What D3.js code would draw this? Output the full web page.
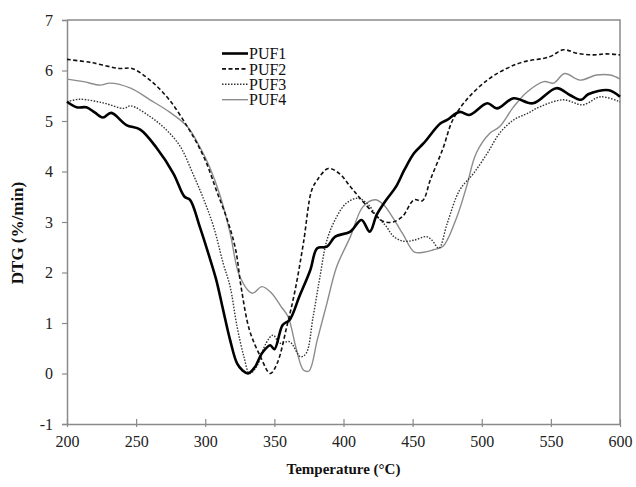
<!DOCTYPE html>
<html>
<head>
<meta charset="utf-8">
<script src="https://cdn.jsdelivr.net/npm/d3@7"></script>
<style>
  html, body { margin: 0; padding: 0; background: #fff; }
  svg { display: block; }
  svg text { font-family: "Liberation Serif", "Times New Roman", serif; }
</style>
</head>
<body>
<svg id="chart" width="636" height="487"></svg>
<script>
// ---------- data ----------
const seriesNames = ["PUF1", "PUF2", "PUF3", "PUF4"];
const xTicks = [200, 250, 300, 350, 400, 450, 500, 550, 600];
const yTicks = [-1, 0, 1, 2, 3, 4, 5, 6, 7];

const puf1T = [200, 207, 214, 220, 226, 232, 243, 253, 265, 277, 285, 289, 296, 303, 308, 313, 318, 323, 327, 331, 336, 341, 347, 350, 356, 361, 368, 376, 381, 388, 394, 405, 413, 419, 424, 431, 438, 444, 451, 458, 470, 475, 484, 491, 504, 511, 523, 537, 554, 564, 572, 577, 592, 600];
const puf1V = [5.38, 5.27, 5.27, 5.17, 5.07, 5.16, 4.92, 4.83, 4.46, 3.96, 3.5, 3.44, 2.91, 2.31, 1.85, 1.25, 0.66, 0.2, 0.06, 0.0, 0.13, 0.4, 0.56, 0.48, 0.96, 1.06, 1.52, 2.05, 2.48, 2.51, 2.71, 2.81, 3.04, 2.81, 3.14, 3.44, 3.7, 4.03, 4.36, 4.56, 4.95, 5.02, 5.18, 5.12, 5.35, 5.25, 5.45, 5.35, 5.65, 5.51, 5.42, 5.53, 5.61, 5.48];

const puf2T = [200, 217, 238, 247, 260, 274, 287, 294, 301, 308, 316, 322, 326, 332, 340, 347, 352, 359, 365, 371, 377, 381, 389, 397, 405, 412, 422, 429, 436, 443, 451, 457, 463, 472, 479, 489, 504, 518, 530, 549, 559, 569, 581, 590, 600];
const puf2V = [6.22, 6.16, 6.04, 6.04, 5.81, 5.42, 4.89, 4.56, 4.16, 3.63, 3.04, 2.45, 1.7, 0.86, 0.33, 0.0, 0.2, 0.93, 1.65, 2.58, 3.63, 3.83, 4.06, 3.96, 3.7, 3.47, 3.17, 3.01, 3.0, 3.12, 3.44, 3.42, 3.85, 4.46, 5.02, 5.42, 5.81, 6.04, 6.17, 6.27, 6.41, 6.34, 6.31, 6.33, 6.31];

const puf3T = [200, 209, 226, 241, 246, 260, 272, 282, 291, 299, 306, 313, 318, 323, 328, 332, 337, 344, 349, 354, 361, 369, 373, 378, 383, 388, 395, 402, 410, 417, 424, 431, 436, 443, 451, 460, 464, 469, 475, 484, 494, 504, 513, 523, 533, 542, 559, 573, 586, 600];
const puf3V = [5.38, 5.43, 5.36, 5.25, 5.3, 5.09, 4.82, 4.49, 3.96, 3.44, 2.91, 2.18, 1.72, 0.93, 0.33, 0.0, 0.13, 0.6, 0.76, 0.6, 0.63, 0.33, 0.4, 1.12, 1.92, 2.64, 3.1, 3.37, 3.47, 3.37, 3.12, 2.91, 2.72, 2.62, 2.64, 2.71, 2.64, 2.48, 2.97, 3.63, 3.96, 4.36, 4.76, 5.02, 5.15, 5.28, 5.42, 5.32, 5.48, 5.38];

const puf4T = [200, 212, 224, 231, 246, 260, 274, 287, 296, 303, 311, 318, 325, 334, 341, 348, 355, 360, 366, 371, 375, 381, 388, 395, 405, 414, 423, 429, 436, 443, 451, 458, 465, 472, 482, 489, 496, 506, 513, 523, 533, 545, 552, 560, 571, 583, 593, 600];
const puf4V = [5.83, 5.78, 5.71, 5.75, 5.65, 5.42, 5.18, 4.89, 4.49, 4.1, 3.5, 2.78, 1.92, 1.59, 1.72, 1.59, 1.32, 1.12, 0.47, 0.07, 0.05, 0.66, 1.39, 2.11, 2.71, 3.3, 3.44, 3.34, 3.07, 2.76, 2.41, 2.4, 2.45, 2.52, 3.1, 3.7, 4.36, 4.76, 4.89, 5.28, 5.58, 5.78, 5.75, 5.94, 5.81, 5.91, 5.91, 5.83];

// ---------- layout ----------
const svg = d3.select("#chart");
const margin = { left: 67, right: 16, top: 20, bottom: 63 };
const W = 636, H = 487;
const x = d3.scaleLinear().domain([200, 600]).range([margin.left, W - margin.right]);
const y = d3.scaleLinear().domain([-1, 7]).range([H - margin.bottom, margin.top]);

const axisColor = "#8a8a8a";
const serif = "'Liberation Serif', 'Times New Roman', serif";

// frame (top / right)
svg.append("path")
  .attr("d", `M${x(200)},${y(7)}H${x(600)}V${y(-1)}`)
  .attr("fill", "none").attr("stroke", axisColor).attr("stroke-width", 1.5);

// x axis
const gx = svg.append("g").attr("transform", `translate(0,${y(-1)})`)
  .call(d3.axisBottom(x).tickValues(xTicks).tickSize(0).tickPadding(12).tickFormat(d => String(d)));
gx.attr("font-family", null);
gx.select(".domain").attr("stroke", axisColor).attr("stroke-width", 1.5);
gx.selectAll(".tick").append("line").attr("y1", -5).attr("y2", 3).attr("stroke", axisColor).attr("stroke-width", 1.2);
gx.selectAll("text").style("font-family", serif).style("font-size", "16px").attr("fill", "#222");

// y axis
const gy = svg.append("g").attr("transform", `translate(${x(200)},0)`)
  .call(d3.axisLeft(y).tickValues(yTicks).tickSize(5).tickPadding(9).tickFormat(d => String(d)));
gy.attr("font-family", null);
gy.select(".domain").attr("stroke", axisColor).attr("stroke-width", 1.5);
gy.selectAll(".tick line").attr("stroke", axisColor).attr("stroke-width", 1.2);
gy.selectAll("text").style("font-family", serif).style("font-size", "16px").attr("fill", "#222");

// axis titles
svg.append("text")
  .attr("x", (x(200) + x(600)) / 2).attr("y", 474)
  .attr("text-anchor", "middle")
  .style("font-family", serif).style("font-weight", "bold").style("font-size", "15px").attr("fill", "#111")
  .text("Temperature (°C)");
svg.append("text")
  .attr("transform", `translate(23,233) rotate(-90)`)
  .attr("text-anchor", "middle")
  .style("font-family", serif).style("font-weight", "bold").style("font-size", "17px").attr("fill", "#111")
  .text("DTG (%/min)");

// ---------- series ----------
const styles = [
  { color: "#000", width: 2.6, dash: null },
  { color: "#111", width: 1.6, dash: "4,2.5" },
  { color: "#333", width: 1.4, dash: "1.5,1.5" },
  { color: "#8c8c8c", width: 1.4, dash: null }
];
const seriesT = [puf1T, puf2T, puf3T, puf4T];
const seriesV = [puf1V, puf2V, puf3V, puf4V];

const line = d3.line().x(d => x(d[0])).y(d => y(d[1])).curve(d3.curveCatmullRom.alpha(0.5));

// draw order: PUF4, PUF3, PUF2, PUF1 on top
[3, 2, 1, 0].forEach(i => {
  const pts = d3.zip(seriesT[i], seriesV[i]);
  svg.append("path")
    .datum(pts)
    .attr("d", line)
    .attr("fill", "none")
    .attr("stroke", styles[i].color)
    .attr("stroke-width", styles[i].width)
    .attr("stroke-dasharray", styles[i].dash)
    .attr("stroke-linejoin", "round");
});

// ---------- legend ----------
const legend = svg.append("g");
seriesNames.forEach((name, i) => {
  const ly = 53.5 + i * 15.4;
  legend.append("line")
    .attr("x1", 222).attr("x2", 248).attr("y1", ly).attr("y2", ly)
    .attr("stroke", styles[i].color).attr("stroke-width", styles[i].width)
    .attr("stroke-dasharray", styles[i].dash);
  legend.append("text")
    .attr("x", 249).attr("y", ly).attr("dy", "0.35em")
    .style("font-family", serif).style("font-size", "16px").attr("fill", "#111")
    .text(name);
});
</script>
</body>
</html>
